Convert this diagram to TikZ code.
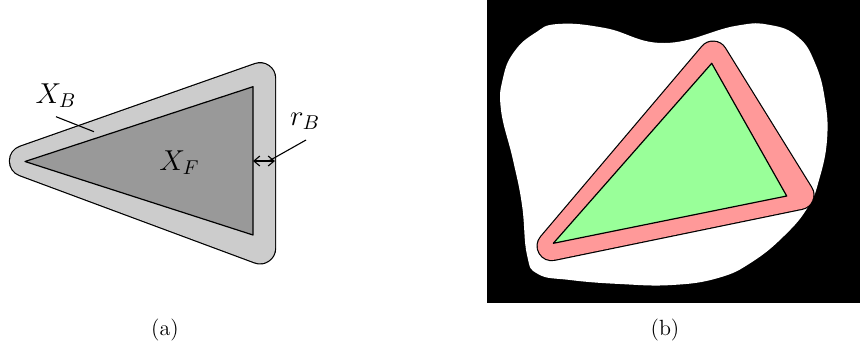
\documentclass[tikz,border=0pt]{standalone}
\usetikzlibrary{arrows.meta}
\definecolor{bandgray}{HTML}{CCCCCC}
\definecolor{coregray}{HTML}{999999}
\definecolor{bandred}{HTML}{FF9999}
\definecolor{coregreen}{HTML}{99FF99}
\begin{document}
\begin{tikzpicture}[x=0.5pt,y=-0.5pt,
  lbl/.style={inner sep=0pt, anchor=base, font=\fontsize{14.6}{17}\selectfont},
  captext/.style={inner sep=0pt, anchor=base, font=\fontsize{11}{13}\selectfont},
  outl/.style={line width=0.6pt, line join=round},
  leader/.style={line width=0.55pt}]
\useasboundingbox (0,0) rectangle (860,349);

% ---------- (a) ----------
\draw[line width=16.2pt, black, line join=round] (25,161) -- (260,78.3) -- (260,248.3) -- cycle;
\draw[line width=15pt, bandgray, line join=round] (25,161) -- (260,78.3) -- (260,248.3) -- cycle;
\fill[bandgray] (25,161) -- (260,78.3) -- (260,248.3) -- cycle;
\filldraw[outl, fill=coregray, draw=black] (25,161.5) -- (253,86.7) -- (253,235) -- cycle;

\node[lbl] (xb) at (56,103.3) {$X_B$};
\node[lbl] (xf) at (179.5,170) {$X_F$};
\node[lbl] (rb) at (305,125) {$r_B$};

\coordinate (xbA) at (56,116.7);
\coordinate (xbB) at (94,131.7);
\draw[leader] (xbA) -- (xbB);

\coordinate (rbA) at (306,140);
\coordinate (rbB) at (269.3,160.7);
\draw[leader] (rbA) -- (rbB);
\coordinate (arL) at (253,161);
\coordinate (arR) at (275,161);
\draw[leader, {Straight Barb[length=3pt,width=5pt]}-{Straight Barb[length=3pt,width=5pt]}] (arL) -- (arR);

\node[captext] (capa) at (165,335) {(a)};

% ---------- (b) ----------
\fill[black] (487,0) rectangle (860,303);
\fill[white] plot[smooth cycle, tension=0.75] coordinates {
  (514,52) (535,33) (558,24) (605,28) (665,43) (735,26) (770,25) (798,37)
  (815,63) (825,100) (827,140) (819,180) (808,207) (785,235) (752,262)
  (718,278) (672,285) (620,284) (570,280) (538,274) (527,255)
  (522,205) (513,160) (501,110) (503,78)};

\draw[line width=15.2pt, black, line join=round] (551.7,246) -- (713,55.7) -- (799.3,195) -- cycle;
\draw[line width=14pt, bandred, line join=round] (551.7,246) -- (713,55.7) -- (799.3,195) -- cycle;
\fill[bandred] (551.7,246) -- (713,55.7) -- (799.3,195) -- cycle;
\filldraw[outl, fill=coregreen, draw=black] (553.3,243.3) -- (711.7,63.3) -- (786.7,196) -- cycle;

\node[captext] (capb) at (665,335) {(b)};
\end{tikzpicture}
\end{document}
